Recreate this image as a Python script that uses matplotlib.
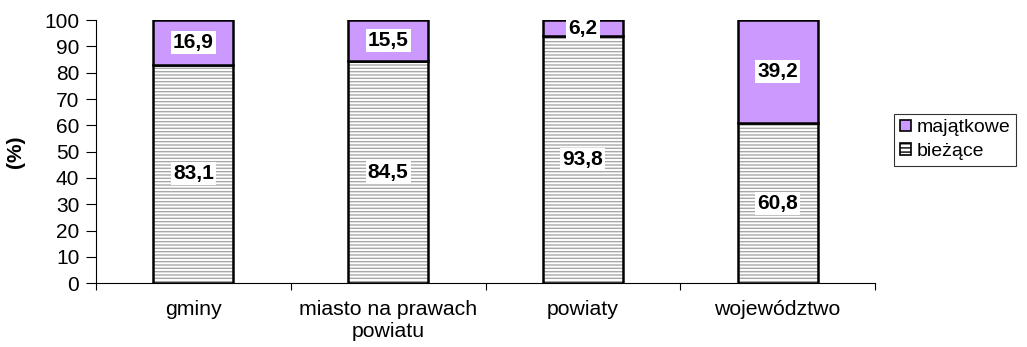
import numpy as np
import matplotlib.pyplot as plt
from matplotlib.patches import Patch

plt.rcParams['font.family'] = ['Liberation Sans', 'DejaVu Sans']
plt.rcParams['hatch.linewidth'] = 1.0

kategorie = ['gminy', 'miasto na prawach\npowiatu', 'powiaty', 'województwo']
biezace = [83.1, 84.5, 93.8, 60.8]
majatkowe = [16.9, 15.5, 6.2, 39.2]

szary = '#a8a8a8'
fiolet = '#cc99ff'

fig = plt.figure(figsize=(10.27, 3.47), dpi=100)
ax = fig.add_axes([0.0935, 0.184, 0.7585, 0.758])

x = np.arange(len(kategorie))
w = 0.41
# paski z szarym kreskowaniem, potem czarny obrys
ax.bar(x, biezace, w, color='white', edgecolor=szary, linewidth=0, hatch='-----')
ax.bar(x, biezace, w, fill=False, edgecolor='black', linewidth=1.8)
ax.bar(x, majatkowe, w, bottom=biezace, color=fiolet, edgecolor='black', linewidth=1.8)

box = dict(facecolor='white', edgecolor='none', pad=1.5)
for i in range(len(x)):
    ax.text(x[i], biezace[i] / 2, f'{biezace[i]:.1f}'.replace('.', ','),
            ha='center', va='center', fontsize=15, fontweight='bold', bbox=box)
    ax.text(x[i], biezace[i] + majatkowe[i] / 2, f'{majatkowe[i]:.1f}'.replace('.', ','),
            ha='center', va='center', fontsize=15, fontweight='bold', bbox=box)

ax.set_xlim(-0.5, len(x) - 0.5)
ax.set_ylim(0, 100)
ax.set_yticks(np.arange(0, 101, 10))
ax.set_xticks(np.arange(-0.5, len(x), 1.0))
ax.set_xticklabels([])
ax.set_xticks(x, minor=True)
ax.set_xticklabels(kategorie, minor=True, fontsize=15.3, multialignment='center')
ax.tick_params(axis='x', which='minor', length=0, pad=12)
ax.tick_params(axis='x', which='major', length=5, direction='out')
ax.tick_params(axis='y', length=7, labelsize=15, pad=5)
ax.spines['top'].set_visible(False)
ax.spines['right'].set_visible(False)
ax.set_ylabel('(%)', fontsize=15, fontweight='bold', labelpad=14)

h_maj = Patch(facecolor=fiolet, edgecolor='black', linewidth=1.2)
h_bie = Patch(facecolor='white', edgecolor='black', linewidth=1.2, hatch='----')
leg = ax.legend([h_maj, h_bie], ['majątkowe', 'bieżące'], loc='center left',
                bbox_to_anchor=(1.025, 0.545), fontsize=14, frameon=True,
                fancybox=False, edgecolor='black', handlelength=0.55,
                handleheight=0.55, handletextpad=0.3, borderpad=0.3,
                labelspacing=0.35, borderaxespad=0)
leg.get_frame().set_linewidth(0.8)

fig.savefig('out.png', dpi=100)
